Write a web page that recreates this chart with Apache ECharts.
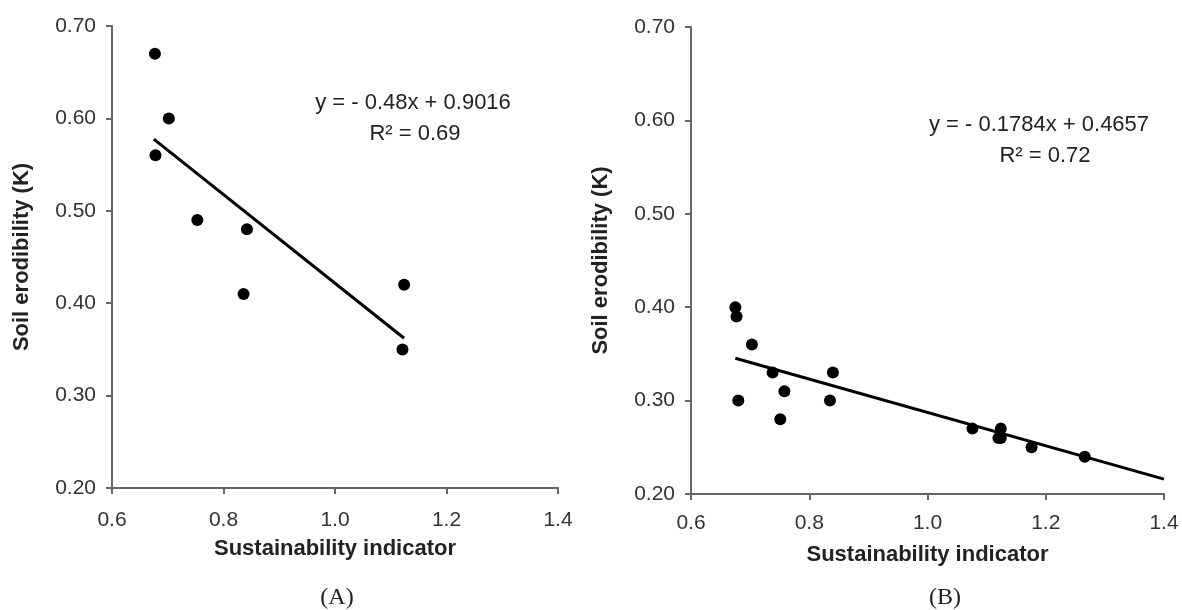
<!DOCTYPE html>
<html>
<head>
<meta charset="utf-8">
<script src="https://cdn.jsdelivr.net/npm/echarts@6/dist/echarts.min.js"></script>
<style>
  html, body { margin: 0; padding: 0; background: #fff; }
  #main { width: 1182px; height: 610px; }
</style>
</head>
<body>
<div id="main"></div>
<script>
// panel A points
var xA = [0.677, 0.702, 0.678, 0.753, 0.842, 0.836, 1.124, 1.121];
var yA = [0.67, 0.60, 0.56, 0.49, 0.48, 0.41, 0.42, 0.35];
// panel B points
var xB = [0.675, 0.677, 0.703, 0.738, 0.680, 0.758, 0.751, 0.835, 0.840, 1.076, 1.124, 1.124, 1.120, 1.176, 1.266];
var yB = [0.40, 0.39, 0.36, 0.33, 0.30, 0.31, 0.28, 0.30, 0.33, 0.27, 0.27, 0.26, 0.26, 0.25, 0.24];
// trend lines: [slope, intercept, xStart, xEnd]
var fitA = [-0.48, 0.9016, 0.675, 1.124];
var fitB = [-0.1784, 0.4657, 0.675, 1.4];
var eqA = ['y = - 0.48x + 0.9016', 'R\u00B2 = 0.69'];
var eqB = ['y = - 0.1784x + 0.4657', 'R\u00B2 = 0.72'];
var xTicks = [0.6, 1.4, 0.2];
var yTicks = [0.2, 0.7, 0.1];

function pairs(xs, ys) {
  var out = [];
  for (var i = 0; i < xs.length; i++) out.push([xs[i], ys[i]]);
  return out;
}
function fitLine(f) {
  return [[f[2], f[0] * f[2] + f[1]], [f[3], f[0] * f[3] + f[1]]];
}

var font = 'Liberation Sans, Arial, sans-serif';
var axisColor = '#666';

function xAxisCfg(idx, margin) {
  return {
    type: 'value', gridIndex: idx,
    min: xTicks[0], max: xTicks[1], interval: xTicks[2],
    name: 'Sustainability indicator', nameLocation: 'middle', nameGap: 50,
    nameTextStyle: { fontFamily: font, fontWeight: 'bold', fontSize: 22, color: '#222' },
    axisLine: { lineStyle: { color: axisColor, width: 2 } },
    axisTick: { length: 6, lineStyle: { color: axisColor, width: 2 } },
    axisLabel: { fontFamily: font, fontSize: 21, color: '#333', margin: margin,
      formatter: function (v) { return v.toFixed(1); } },
    splitLine: { show: false }
  };
}
function yAxisCfg(idx) {
  return {
    type: 'value', gridIndex: idx,
    min: yTicks[0], max: yTicks[1], interval: yTicks[2],
    name: 'Soil erodibility (K)', nameLocation: 'middle', nameGap: 79,
    nameTextStyle: { fontFamily: font, fontWeight: 'bold', fontSize: 22, color: '#222' },
    axisLine: { show: true, lineStyle: { color: axisColor, width: 2 } },
    axisTick: { show: true, length: 6, lineStyle: { color: axisColor, width: 2 } },
    axisLabel: { fontFamily: font, fontSize: 21, color: '#333', margin: 16,
      formatter: function (v) { return v.toFixed(2); } },
    splitLine: { show: false }
  };
}

function eqText(str, cx, cy) {
  return { type: 'text', x: cx, y: cy,
    style: { text: str, font: '22px ' + font, fill: '#222', textAlign: 'center', textVerticalAlign: 'middle' } };
}

var chart = echarts.init(document.getElementById('main'));
chart.setOption({
  animation: false,
  backgroundColor: '#fff',
  grid: [
    { left: 112, top: 26, width: 446, height: 462 },
    { left: 691, top: 27, width: 473, height: 467 }
  ],
  xAxis: [xAxisCfg(0, 22), xAxisCfg(1, 19)],
  yAxis: [yAxisCfg(0), yAxisCfg(1)],
  graphic: [
    eqText(eqA[0], 413, 103),
    eqText(eqA[1], 415, 134),
    eqText(eqB[0], 1039, 125),
    eqText(eqB[1], 1045, 156),
    { type: 'text', x: 337, y: 598,
      style: { text: '(A)', font: '24px Liberation Serif, serif', fill: '#222', textAlign: 'center', textVerticalAlign: 'middle' } },
    { type: 'text', x: 945, y: 598,
      style: { text: '(B)', font: '24px Liberation Serif, serif', fill: '#222', textAlign: 'center', textVerticalAlign: 'middle' } }
  ],
  series: [
    { type: 'scatter', xAxisIndex: 0, yAxisIndex: 0, symbolSize: 12,
      itemStyle: { color: '#000', opacity: 1 }, data: pairs(xA, yA), z: 3 },
    { type: 'line', xAxisIndex: 0, yAxisIndex: 0, showSymbol: false,
      lineStyle: { color: '#000', width: 3 }, data: fitLine(fitA) },
    { type: 'scatter', xAxisIndex: 1, yAxisIndex: 1, symbolSize: 12,
      itemStyle: { color: '#000', opacity: 1 }, data: pairs(xB, yB), z: 3 },
    { type: 'line', xAxisIndex: 1, yAxisIndex: 1, showSymbol: false,
      lineStyle: { color: '#000', width: 3 }, data: fitLine(fitB) }
  ]
});
</script>
</body>
</html>
